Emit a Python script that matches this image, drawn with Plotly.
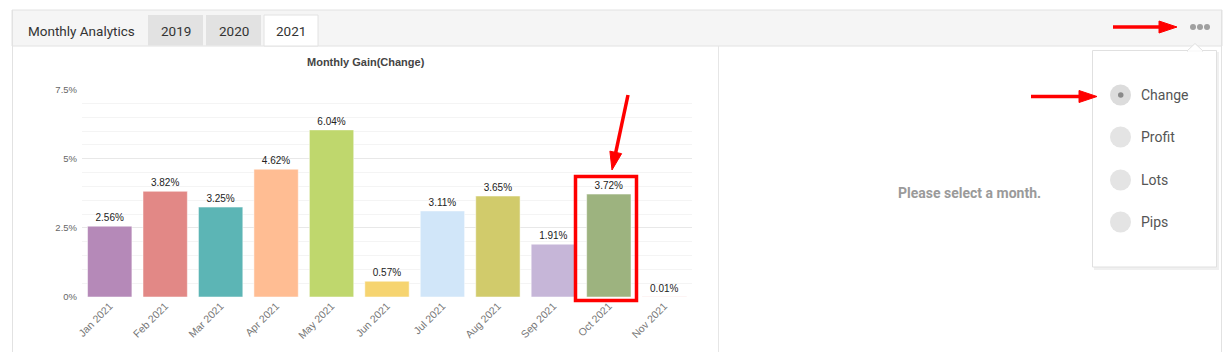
import math
import plotly.graph_objects as go

W, H = 1225, 352

months = ["Jan 2021", "Feb 2021", "Mar 2021", "Apr 2021", "May 2021", "Jun 2021",
          "Jul 2021", "Aug 2021", "Sep 2021", "Oct 2021", "Nov 2021"]
gains = [2.56, 3.82, 3.25, 4.62, 6.04, 0.57, 3.11, 3.65, 1.91, 3.72, 0.01]
bar_colors = ["#b589b8", "#e28886", "#5cb5b5", "#ffbd93", "#bfd76d", "#f6d470",
              "#d1e6f9", "#d1cb6b", "#c6b6d8", "#9db37f", "#f0a8a8"]
y_tickvals = [0, 2.5, 5, 7.5]
y_ticktext = ["0%", "2.5%", "5%", "7.5%"]
tabs = ["2019", "2020", "2021"]
menu_items = ["Change", "Profit", "Lots", "Pips"]


def px(x):
    return x / W


def py(y):
    return 1 - y / H


fig = go.Figure()
fig.add_trace(go.Bar(
    x=months, y=gains,
    marker=dict(color=bar_colors, line=dict(color="rgba(255,255,255,0.5)", width=1)),
    width=0.8,
    text=[f"{v:.2f}%" for v in gains],
    textposition="outside",
    outsidetextfont=dict(family="Liberation Sans, Arial", size=10, color="#222"),
    cliponaxis=False,
    hoverinfo="skip",
))

shapes = []
annotations = []

# header bar
shapes.append(dict(type="rect", xref="paper", yref="paper", x0=px(12), x1=px(1222), y0=py(46), y1=py(10),
                   fillcolor="#f5f5f5", line=dict(color="#e2e2e2", width=1), layer="below"))
# outer panel borders
shapes.append(dict(type="line", xref="paper", yref="paper", x0=px(12.5), x1=px(12.5), y0=py(10), y1=0,
                   line=dict(color="#e2e2e2", width=1)))
shapes.append(dict(type="line", xref="paper", yref="paper", x0=px(1221.5), x1=px(1221.5), y0=py(10), y1=0,
                   line=dict(color="#e2e2e2", width=1)))
shapes.append(dict(type="line", xref="paper", yref="paper", x0=px(718.5), x1=px(718.5), y0=py(46), y1=0,
                   line=dict(color="#e6e6e6", width=1)))

# tabs
tab_x = [(148, 203), (206, 261), (264, 318)]
for i, (t, (a, b)) in enumerate(zip(tabs, tab_x)):
    active = i == 2
    shapes.append(dict(type="rect", xref="paper", yref="paper", x0=px(a), x1=px(b), y0=py(46 if active else 45.5), y1=py(15),
                       fillcolor="#ffffff" if active else "#e2e2e2",
                       line=dict(color="#e2e2e2", width=1 if active else 0)))
    annotations.append(dict(x=px((a + b) / 2), y=py(31), xref="paper", yref="paper", text=t, showarrow=False,
                            font=dict(family="Roboto", size=13.5, color="#333"), xanchor="center", yanchor="middle"))
annotations.append(dict(x=px(26), y=py(31), xref="paper", yref="paper", text="Monthly Analytics", showarrow=False,
                        font=dict(family="Roboto", size=13.5, color="#333"), xanchor="left", yanchor="middle"))

# chart title
annotations.append(dict(x=px(366), y=py(62), xref="paper", yref="paper", text="<b>Monthly Gain(Change)</b>",
                        showarrow=False, font=dict(family="Liberation Sans, Arial", size=11, color="#444"),
                        xanchor="center", yanchor="middle"))

# right panel message
annotations.append(dict(x=px(970), y=py(193), xref="paper", yref="paper", text="<b>Please select a month.</b>",
                        showarrow=False, font=dict(family="Roboto", size=14, color="#9a9a9a"),
                        xanchor="center", yanchor="middle"))

# dots menu
for cx in (1193, 1200, 1207):
    shapes.append(dict(type="circle", xref="paper", yref="paper", x0=px(cx - 3), x1=px(cx + 3), y0=py(30), y1=py(24),
                       fillcolor="#a0a0a0", line=dict(width=0)))

# dropdown shadow + box
shapes.append(dict(type="rect", xref="paper", yref="paper", x0=px(1094), x1=px(1219), y0=py(270), y1=py(52),
                   fillcolor="rgba(0,0,0,0.06)", line=dict(width=0)))
shapes.append(dict(type="rect", xref="paper", yref="paper", x0=px(1092.5), x1=px(1216.5), y0=py(267), y1=py(50.5),
                   fillcolor="#ffffff", line=dict(color="#e0e0e0", width=1)))
# notch
shapes.append(dict(type="path", xref="paper", yref="paper",
                   path=f"M {px(1187)} {py(51)} L {px(1195)} {py(43.5)} L {px(1203)} {py(51)} Z",
                   fillcolor="#ffffff", line=dict(color="#e0e0e0", width=1)))
shapes.append(dict(type="line", xref="paper", yref="paper", x0=px(1188), x1=px(1202), y0=py(51), y1=py(51),
                   line=dict(color="#ffffff", width=1.5)))

item_y = [95, 137, 180, 222]
for i, (lab, yy) in enumerate(zip(menu_items, item_y)):
    shapes.append(dict(type="circle", xref="paper", yref="paper", x0=px(1110), x1=px(1131), y0=py(yy + 10.5), y1=py(yy - 10.5),
                       fillcolor="#dcdcdc" if i == 0 else "#e4e4e4", line=dict(width=0)))
    if i == 0:
        shapes.append(dict(type="circle", xref="paper", yref="paper", x0=px(1118), x1=px(1123.5), y0=py(yy + 2.7), y1=py(yy - 2.7),
                           fillcolor="#8a8a8a", line=dict(width=0)))
    annotations.append(dict(x=px(1139), y=py(yy), xref="paper", yref="paper", text=lab, showarrow=False,
                            font=dict(family="Roboto", size=14, color="#555"), xanchor="left", yanchor="middle"))


# red arrows
def red_arrow(x0, y0, x1, y1, head_len=18, head_w=6, lw=3.5):
    dx, dy = x1 - x0, y1 - y0
    L = math.hypot(dx, dy)
    ux, uy = dx / L, dy / L
    bx, by = x1 - ux * head_len, y1 - uy * head_len
    nx, ny = -uy, ux
    shapes.append(dict(type="line", xref="paper", yref="paper", x0=px(x0), y0=py(y0), x1=px(bx + ux * 2), y1=py(by + uy * 2),
                       line=dict(color="#ff0000", width=lw)))
    shapes.append(dict(type="path", xref="paper", yref="paper",
                       path=f"M {px(x1)} {py(y1)} L {px(bx + nx * head_w)} {py(by + ny * head_w)} "
                            f"L {px(bx - nx * head_w)} {py(by - ny * head_w)} Z",
                       fillcolor="#ff0000", line=dict(color="#ff0000", width=1)))


red_arrow(1113, 27, 1177, 27)
red_arrow(1031, 96.5, 1097, 96.5)
red_arrow(628, 95, 612, 170)

# red highlight box around Oct bar
shapes.append(dict(type="rect", xref="paper", yref="paper", x0=px(575.5), x1=px(636.5), y0=py(300.5), y1=py(176.5),
                   fillcolor="rgba(0,0,0,0)", line=dict(color="#ff0000", width=3.5)))

fig.update_layout(
    width=W, height=H,
    margin=dict(l=0, r=0, t=0, b=0, pad=0, autoexpand=False),
    paper_bgcolor="#ffffff",
    plot_bgcolor="#ffffff",
    showlegend=False,
    bargap=0.2,
    xaxis=dict(
        domain=[px(82), px(692)],
        automargin=False,
        tickangle=-45,
        tickfont=dict(family="Liberation Sans, Arial", size=10.5, color="#777"),
        showgrid=False, zeroline=False, showline=False, ticks="",
        fixedrange=True,
    ),
    yaxis=dict(
        domain=[py(297), py(89.5)],
        automargin=False,
        range=[0, 7.5],
        tickvals=y_tickvals, ticktext=y_ticktext,
        tickfont=dict(family="Liberation Sans, Arial", size=9.5, color="#666"),
        showgrid=True, gridcolor="#e8e8e8", gridwidth=1,
        minor=dict(dtick=0.5, showgrid=True, gridcolor="#f4f4f4", gridwidth=1),
        zeroline=False, showline=False, ticks="",
        ticklabelstandoff=4,
        fixedrange=True,
    ),
    shapes=shapes,
    annotations=annotations,
)

fig.write_html("out.html", config={"displayModeBar": False})
